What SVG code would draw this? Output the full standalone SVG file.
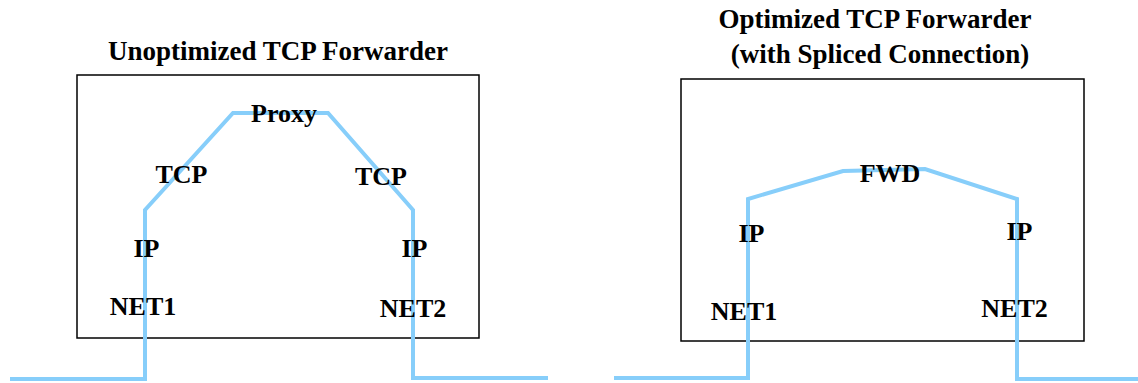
<svg xmlns="http://www.w3.org/2000/svg" width="1138" height="383" viewBox="0 0 1138 383">
<style>
.t{font-family:"Liberation Serif","Times New Roman",serif;font-weight:bold;font-size:26px;fill:#000;text-anchor:middle}
.title{font-size:27px}
.box{fill:none;stroke:#000;stroke-width:1.5}
.path{fill:none;stroke:#87CEFA;stroke-width:4;stroke-linejoin:miter}
</style>
<rect width="1138" height="383" fill="#fff"/>
<g id="left-panel">
<text class="t title" x="278" y="60">Unoptimized TCP Forwarder</text>
<rect class="box" x="77" y="75" width="402" height="263"/>
</g>
<g id="right-panel">
<text class="t title" x="875" y="28">Optimized TCP Forwarder</text>
<text class="t title" x="880" y="63">(with Spliced Connection)</text>
<rect class="box" x="681" y="79" width="403" height="262"/>
</g>
<g id="connectors">
<polyline class="path" points="10,379 145,379 145,210 233,113 328,113 413,210 413,378 548,378"/>
<polyline class="path" points="614,378 748,378 748,199 843,171 925,169 1017,199 1017,379 1138,379"/>
</g>
<g id="left-labels">
<text class="t" x="284" y="122">Proxy</text>
<text class="t" x="181.5" y="183">TCP</text>
<text class="t" x="381" y="185">TCP</text>
<text class="t" x="146.5" y="257">IP</text>
<text class="t" x="414.5" y="257">IP</text>
<text class="t" x="143" y="315">NET1</text>
<text class="t" x="413" y="317">NET2</text>
</g>
<g id="right-labels">
<text class="t" x="890" y="182">FWD</text>
<text class="t" x="751.5" y="242">IP</text>
<text class="t" x="1019.5" y="240">IP</text>
<text class="t" x="744" y="320">NET1</text>
<text class="t" x="1014.5" y="317">NET2</text>
</g>
</svg>
